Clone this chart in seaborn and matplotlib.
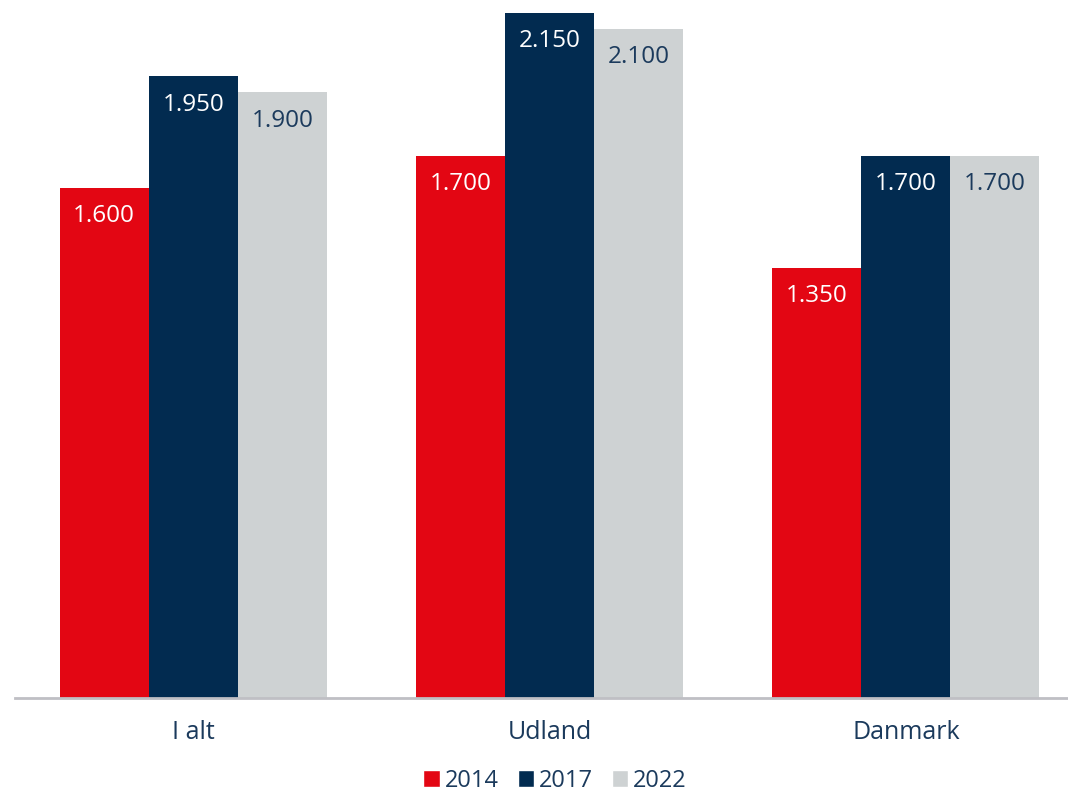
import numpy as np
import pandas as pd
import matplotlib
matplotlib.use("Agg")
import matplotlib.pyplot as plt
import seaborn as sns
from matplotlib.patches import Patch

# ─── data ─────────────────────────────────────────────
categories = ["I alt", "Udland", "Danmark"]
years = ["2014", "2017", "2022"]
values_2014 = [1600, 1700, 1350]
values_2017 = [1950, 2150, 1700]
values_2022 = [1900, 2100, 1700]

colors = ["#E30613", "#022B50", "#CED2D3"]
label_colors = ["white", "white", "#1B3A5C"]
text_color = "#1B3A5C"

df = pd.DataFrame({
    "kategori": categories * 3,
    "aar": [y for y in years for _ in categories],
    "vaerdi": values_2014 + values_2017 + values_2022,
})

sns.set_style("white")
plt.rcParams["font.family"] = ["Open Sans", "DejaVu Sans"]

fig = plt.figure(figsize=(10.68, 7.94), dpi=100)
ax = fig.add_axes([15 / 1068, 1 - 698 / 794, 1 - 15 / 1068, 698 / 794])

sns.barplot(data=df, x="kategori", y="vaerdi", hue="aar", order=categories,
            hue_order=years, palette=colors, width=0.75, linewidth=0,
            saturation=1, legend=False, ax=ax)

ax.set_xlim(-0.5, 2.455)
ax.set_ylim(0, 2190)
ax.set_yticks([])
ax.set_xlabel("")
ax.set_ylabel("")
for s in ["top", "right", "left"]:
    ax.spines[s].set_visible(False)
ax.spines["bottom"].set_color("#BFBFC4")
ax.spines["bottom"].set_linewidth(2)
ax.tick_params(axis="x", length=0, pad=16, labelsize=18, labelcolor=text_color)

# value labels inside the bars
for cont, lc in zip(ax.containers, label_colors):
    labels = [f"{v:,.0f}".replace(",", ".") for v in cont.datavalues]
    ax.bar_label(cont, labels=labels, label_type="edge", padding=-29,
                 color=lc, fontsize=17.5)

handles = [Patch(facecolor=c, label=y) for c, y in zip(colors, years)]
fig.legend(handles=handles, loc="center", bbox_to_anchor=(555 / 1068, 1 - 781 / 794),
           ncol=3, frameon=False, fontsize=17, handlelength=0.7, handleheight=0.7,
           handletextpad=0.2, columnspacing=0.8, labelcolor=text_color,
           borderpad=0.2)

plt.savefig("out.png", dpi=100)
plt.close()
